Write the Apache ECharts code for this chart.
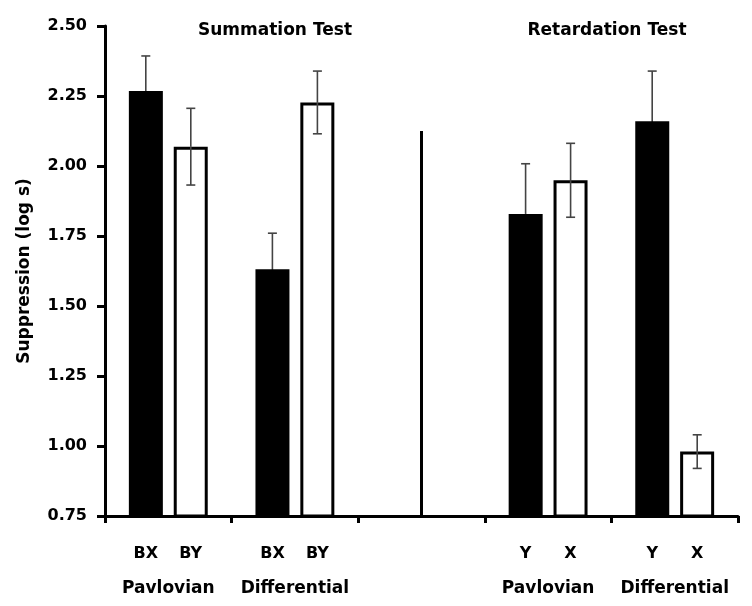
<!DOCTYPE html>
<html>
<head>
<meta charset="utf-8">
<script src="https://cdn.jsdelivr.net/npm/echarts@6/dist/echarts.min.js"></script>
<style>html,body{margin:0;padding:0;background:#fff}#c{width:752px;height:606px}</style>
</head>
<body>
<div id="c"></div>
<script>
// ---- data ----
const groups = ['Pavlovian', 'Differential', '', 'Pavlovian', 'Differential'];
const firstLabels = ['BX', 'BX', '', 'Y', 'Y'];
const secondLabels = ['BY', 'BY', '', 'X', 'X'];
const firstMeans = [2.268, 1.631, null, 1.829, 2.160];
const firstErr = [0.125, 0.129, null, 0.179, 0.179];
const secondMeans = [2.069, 2.227, null, 1.949, 0.980];
const secondErr = [0.137, 0.112, null, 0.132, 0.060];
const panelTitles = ['Summation Test', 'Retardation Test'];
const separator = { group: 2, from: 0.75, to: 2.125 };
const yName = 'Suppression (log s)';

const FONT = 'DejaVu Sans';
const BAR_W = 34;
const OFFSET = 22.5;

function errData(means, errs, side) {
  const out = [];
  means.forEach((m, i) => {
    if (m != null) out.push([i, m - errs[i], m + errs[i], side, m]);
  });
  return out;
}

const chart = echarts.init(document.getElementById('c'), null, { renderer: 'canvas' });

function barLabel(arr, dist) {
  return {
    show: true,
    position: 'bottom',
    distance: dist,
    formatter: p => arr[p.dataIndex],
    fontFamily: FONT, fontWeight: 'bold', fontSize: 16, color: '#000'
  };
}

const option = {
  animation: false,
  backgroundColor: '#fff',
  grid: { left: 105, right: 14, top: 26, bottom: 90 },
  xAxis: {
    type: 'category',
    data: groups,
    axisLine: { lineStyle: { color: '#000', width: 3 } },
    axisTick: { show: true, length: 7, lineStyle: { color: '#000', width: 3 } },
    axisLabel: { interval: 0, margin: 64, fontFamily: FONT, fontWeight: 'bold', fontSize: 17, color: '#000' },
    splitLine: { show: false }
  },
  yAxis: {
    type: 'value',
    min: 0.75, max: 2.5, interval: 0.25,
    name: yName,
    nameLocation: 'middle',
    nameGap: 72,
    nameRotate: 90,
    nameTextStyle: { fontFamily: FONT, fontWeight: 'bold', fontSize: 17, color: '#000' },
    axisLine: { show: true, lineStyle: { color: '#000', width: 3 } },
    axisTick: { show: true, length: 8, lineStyle: { color: '#000', width: 3 } },
    axisLabel: { margin: 18, formatter: v => v.toFixed(2), fontFamily: FONT, fontWeight: 'bold', fontSize: 16, color: '#000' },
    splitLine: { show: false }
  },
  graphic: [
    { type: 'text', x: 275, y: 31, style: { text: panelTitles[0], align: 'center', verticalAlign: 'middle', font: 'bold 17px "DejaVu Sans"', fill: '#000' } },
    { type: 'text', x: 607, y: 31, style: { text: panelTitles[1], align: 'center', verticalAlign: 'middle', font: 'bold 17px "DejaVu Sans"', fill: '#000' } }
  ],
  series: [
    {
      type: 'bar', name: 'first', data: firstMeans,
      barWidth: BAR_W, barGap: '32%',
      itemStyle: { color: '#000' },
      label: barLabel(firstLabels, 30),
      z: 2
    },
    {
      type: 'bar', name: 'second', data: secondMeans,
      barWidth: BAR_W, barGap: '32%',
      itemStyle: { color: '#fff', borderColor: '#000', borderWidth: 3 },
      label: barLabel(secondLabels, 28),
      z: 2
    },
    {
      type: 'line', name: 'separator', data: [],
      markLine: {
        silent: true, symbol: ['none', 'none'],
        label: { show: false },
        lineStyle: { color: '#000', width: 3, type: 'solid' },
        data: [[{ coord: [separator.group, separator.from] }, { coord: [separator.group, separator.to] }]]
      }
    },
    {
      type: 'custom', name: 'err',
      data: errData(firstMeans, firstErr, -1).concat(errData(secondMeans, secondErr, 1)),
      encode: { x: 0, y: [1, 2] },
      z: 5,
      renderItem: function (params, api) {
        const c = api.value(0);
        const lo = api.coord([c, api.value(1)]);
        const hi = api.coord([c, api.value(2)]);
        const mid = api.coord([c, api.value(4)]);
        const side = api.value(3);
        const x = lo[0] + side * OFFSET;
        const cap = 4.5;
        const st = { stroke: '#444', lineWidth: 1.6 };
        const low = side < 0 ? { stroke: '#000', lineWidth: 1.6 } : st;
        return {
          type: 'group',
          children: [
            { type: 'line', shape: { x1: x, y1: mid[1], x2: x, y2: hi[1] }, style: st },
            { type: 'line', shape: { x1: x, y1: lo[1], x2: x, y2: mid[1] }, style: low },
            { type: 'line', shape: { x1: x - cap, y1: lo[1], x2: x + cap, y2: lo[1] }, style: low },
            { type: 'line', shape: { x1: x - cap, y1: hi[1], x2: x + cap, y2: hi[1] }, style: st }
          ]
        };
      }
    }
  ]
};
chart.setOption(option);
</script>
</body>
</html>
